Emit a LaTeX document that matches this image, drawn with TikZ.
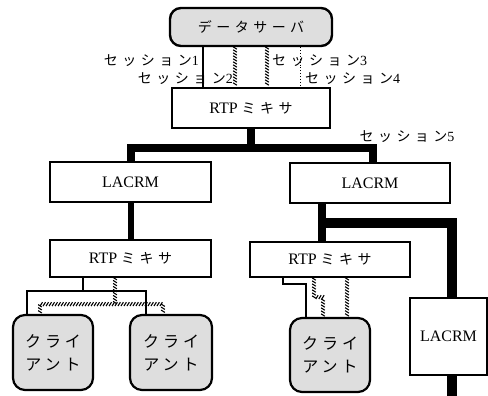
\documentclass[tikz,border=0pt]{standalone}
\usepackage{fontspec}
\setmainfont{Liberation Serif}
\newfontfamily\jpw[LetterSpace=32]{Noto Sans CJK JP}
\newfontfamily\jpc[LetterSpace=25]{Noto Sans CJK JP}
\usetikzlibrary{decorations.markings}

\begin{document}
\begin{tikzpicture}[x=1pt,y=1pt,line join=miter]
\tikzstyle{box}=[draw=black,line width=2.2pt,fill=white,inner sep=0pt,font=\fontsize{16}{18}\selectfont]
\tikzstyle{rbox}=[box,rounded corners=11pt,fill=black!13,line width=2.4pt]
\tikzstyle{lbl}=[inner sep=0pt,font=\jpw\fontsize{14}{16}\selectfont]
\tikzstyle{sess}=[line width=2.4pt]
\tikzstyle{hatch}=[draw=none,postaction={decorate},decoration={markings,mark=between positions 0.02 and 1 step 3pt with {\draw[line width=1.1pt] (-1.2pt,-1.9pt) -- (1.2pt,1.9pt);}}]
\tikzstyle{dotline}=[dotted,line width=0.9pt]
\tikzstyle{trunk}=[line width=8pt]
\useasboundingbox (0,0) rectangle (488,-396);

% servers, mixers, LACRMs
\node[rbox,minimum width=162pt,minimum height=38pt] (srv) at (251,-27) {\jpw\fontsize{14}{16}\selectfont データサーバ};
\node[box,minimum width=158pt,minimum height=40pt] (mix0) at (251,-108) {RTP\ {\jpw\fontsize{14}{16}\selectfont ミキサ}};
\node[box,minimum width=161pt,minimum height=40pt] (lac1) at (130.5,-182) {LACRM};
\node[box,minimum width=160pt,minimum height=40pt] (lac2) at (370,-183) {LACRM};
\node[box,minimum width=161pt,minimum height=37pt] (mix1) at (130.5,-258.5) {RTP\ {\jpw\fontsize{14}{16}\selectfont ミキサ}};
\node[box,minimum width=160pt,minimum height=35pt] (mix2) at (330,-259.5) {RTP\ {\jpw\fontsize{14}{16}\selectfont ミキサ}};
\node[box,minimum width=77pt,minimum height=77pt] (lac3) at (448.5,-336.5) {LACRM};

% clients
\tikzstyle{client}=[rbox,line width=2.2pt,rounded corners=12pt,align=center,font=\jpc\fontsize{16}{23}\selectfont]
\node[client,minimum width=80pt,minimum height=75pt] (cl1) at (53,-352.5) {クライ\\アント};
\node[client,minimum width=82pt,minimum height=75pt] (cl2) at (171,-352.5) {クライ\\アント};
\node[client,minimum width=80pt,minimum height=74pt] (cl3) at (330,-355) {クライ\\アント};

% sessions from the data server
\draw[sess] ([xshift=-48pt]srv.south) -- ([xshift=-48pt]mix0.north);
\path[hatch] ([xshift=-16pt]srv.south) -- ([xshift=-16pt]mix0.north);
\path[hatch] ([xshift=16pt]srv.south) -- ([xshift=16pt]mix0.north);
\draw[dotline] ([xshift=49pt]srv.south) -- ([xshift=49pt]mix0.north);
\node[lbl,anchor=east] (s1) at (199,-61) {セッション{\rmfamily 1}};
\node[lbl,anchor=east] (s2) at (233,-79) {セッション{\rmfamily 2}};
\node[lbl,anchor=west] (s3) at (272,-61) {セッション{\rmfamily 3}};
\node[lbl,anchor=west] (s4) at (305,-79) {セッション{\rmfamily 4}};
\node[lbl] (s5) at (407,-137) {セッション{\rmfamily 5}};

% session 5
\draw[trunk] (mix0.south) -- ++(0,-19) -| (lac1.north);
\draw[trunk] (mix0.south) -- ++(0,-19) -| ([xshift=3pt]lac2.north);
\draw[line width=6pt] (lac1.south) -- (mix1.north);
\draw[trunk] ([xshift=-48pt]lac2.south) -- ([xshift=-48pt]lac2.south |- mix2.north);
\draw[line width=10pt] ([xshift=-48pt,yshift=-19pt]lac2.south) -| ([xshift=3.5pt]lac3.north);
\coordinate (end) at (452,-402);
\draw[line width=10pt] ([xshift=3.5pt]lac3.south) -- (end);

% mixers to clients
\draw[line width=2.6pt] ([xshift=-47.5pt]mix1.south) -- ++(0,-13) coordinate (j1);
\draw[line width=2.6pt] (j1) -| ([xshift=-26pt]cl1.north);
\draw[line width=2.6pt] (j1) -| ([xshift=-25pt]cl2.north);
\path[hatch] ([xshift=-15.5pt]mix1.south) -- ++(0,-26) coordinate (j2);
\path[hatch] (j2) -| ([xshift=-13pt]cl1.north);
\path[hatch] (j2) -| ([xshift=-8pt]cl2.north);
\draw[line width=2.6pt] ([xshift=-47pt]mix2.south) -- ++(0,-6) -| ([xshift=-24pt]cl3.north);
\path[hatch] ([xshift=-16pt]mix2.south) -- ++(0,-19) -| ([xshift=-7pt]cl3.north);
\path[hatch] ([xshift=17pt]mix2.south) -- ([xshift=17pt]cl3.north);
\end{tikzpicture}
\end{document}
